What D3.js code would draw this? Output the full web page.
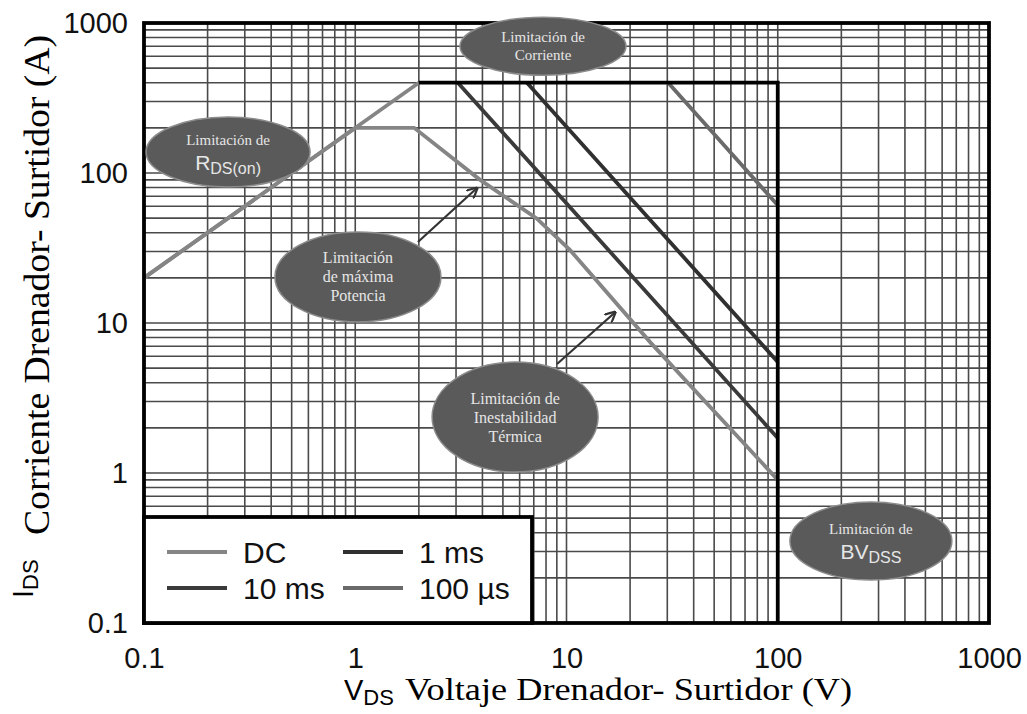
<!DOCTYPE html>
<html>
<head>
<meta charset="utf-8">
<script src="https://cdn.jsdelivr.net/npm/d3@7/dist/d3.min.js"></script>
<style>
  body { margin: 0; background: #fff; }
  .grid line { stroke: #4a4a4a; stroke-width: 1.6; }
  .tick-label text { font-family: "Liberation Sans", Arial, sans-serif; font-size: 29px; fill: #111; }
  .note text { font-family: "Liberation Serif", "Times New Roman", serif; fill: #e6e6e6; }
  .note .sans { font-family: "Liberation Sans", Arial, sans-serif; }
</style>
</head>
<body>
<div id="chart"></div>
<script>
// axis ticks
var xTicks = [0.1, 1, 10, 100, 1000];
var yTicks = [0.1, 1, 10, 100, 1000];

// R_DS(on) limit line
var rdsV = [0.1, 2];
var rdsI = [20, 400];

// current limit and BV_DSS limit
var limV = [2, 100, 100];
var limI = [400, 400, 0.1];

// safe operating area curves
var dcV = [0.1, 1, 1.9, 3.9, 7.2, 10.4, 25, 100];
var dcI = [20, 200, 200, 90, 50, 30.6, 7.4, 0.9];
var ms10V = [3.06, 100];
var ms10I = [400, 1.71];
var ms1V = [6.5, 100];
var ms1I = [400, 5.5];
var us100V = [30.3, 100];
var us100I = [400, 61];

var legendLabels = ["DC", "1 ms", "10 ms", "100 µs"];

var width = 1027,
    height = 714,
    margin = {left: 144, top: 23, right: 38, bottom: 91};

var x = d3.scaleLog()
    .domain([0.1, 1000])
    .range([margin.left, width - margin.right]);

var y = d3.scaleLog()
    .domain([0.1, 1000])
    .range([height - margin.bottom, margin.top]);

var svg = d3.select("#chart").append("svg")
    .attr("width", width)
    .attr("height", height);

// log grid
var grid = svg.append("g").attr("class", "grid");
grid.selectAll(".vx")
    .data(x.ticks())
  .enter().append("line")
    .attr("x1", function(d) { return x(d); })
    .attr("x2", function(d) { return x(d); })
    .attr("y1", y(0.1))
    .attr("y2", y(1000));
grid.selectAll(".hy")
    .data(y.ticks())
  .enter().append("line")
    .attr("x1", x(0.1))
    .attr("x2", x(1000))
    .attr("y1", function(d) { return y(d); })
    .attr("y2", function(d) { return y(d); });

function zip(vs, is) {
  return vs.map(function(v, i) { return [v, is[i]]; });
}

var line = d3.line()
    .x(function(d) { return x(d[0]); })
    .y(function(d) { return y(d[1]); });

var series = [
  {name: "DC", pts: zip(dcV, dcI), color: "#858585", w: 3.8},
  {name: "R", pts: zip(rdsV, rdsI), color: "#858585", w: 3.8},
  {name: "10 ms", pts: zip(ms10V, ms10I), color: "#3a3a3a", w: 3.8},
  {name: "1 ms", pts: zip(ms1V, ms1I), color: "#303030", w: 3.8},
  {name: "100 µs", pts: zip(us100V, us100I), color: "#6a6a6a", w: 3.8},
  {name: "lim", pts: zip(limV, limI), color: "#000", w: 3.8}
];

svg.append("g").selectAll("path")
    .data(series)
  .enter().append("path")
    .attr("d", function(d) { return line(d.pts); })
    .attr("fill", "none")
    .attr("stroke", function(d) { return d.color; })
    .attr("stroke-width", function(d) { return d.w; })
    .attr("stroke-linejoin", "miter");

// frame
svg.append("rect")
    .attr("x", x(0.1))
    .attr("y", y(1000))
    .attr("width", x(1000) - x(0.1))
    .attr("height", y(0.1) - y(1000))
    .attr("fill", "none")
    .attr("stroke", "#000")
    .attr("stroke-width", 3.8);

// axes
var fmt = function(d) { return d < 1 ? "0.1" : String(d); };
svg.append("g")
    .attr("class", "tick-label")
    .attr("transform", "translate(" + x(0.1) + ",0)")
    .call(d3.axisLeft(y).tickValues(yTicks).tickFormat(fmt).tickSize(0).tickPadding(16))
    .call(function(g) { g.select(".domain").remove(); });
svg.append("g")
    .attr("class", "tick-label")
    .attr("transform", "translate(0," + y(0.1) + ")")
    .call(d3.axisBottom(x).tickValues(xTicks).tickFormat(fmt).tickSize(0).tickPadding(24))
    .call(function(g) { g.select(".domain").remove(); });

// axis titles
var xt = svg.append("g");
var xs = xt.append("text")
    .attr("x", 344).attr("y", 700)
    .style("font-family", "Liberation Sans, Arial, sans-serif")
    .style("font-size", "29px");
xs.append("tspan").text("V");
xs.append("tspan").attr("dy", 5).style("font-size", "22px").text("DS");
xt.append("text")
    .attr("x", 405).attr("y", 700)
    .attr("textLength", 447)
    .attr("lengthAdjust", "spacingAndGlyphs")
    .style("font-family", "Liberation Serif, Times New Roman, serif")
    .style("font-size", "32px")
    .text("Voltaje Drenador- Surtidor (V)");

var yt = svg.append("g").attr("transform", "rotate(-90)");
var ys = yt.append("text")
    .attr("x", -598).attr("y", 33)
    .style("font-family", "Liberation Sans, Arial, sans-serif")
    .style("font-size", "29px");
ys.append("tspan").text("I");
ys.append("tspan").attr("dy", 5).style("font-size", "22px").text("DS");
yt.append("text")
    .attr("x", -535).attr("y", 49)
    .attr("textLength", 500)
    .attr("lengthAdjust", "spacingAndGlyphs")
    .style("font-family", "Liberation Serif, Times New Roman, serif")
    .style("font-size", "36px")
    .text("Corriente Drenador- Surtidor (A)");

// legend
var lg = svg.append("g");
lg.append("rect")
    .attr("x", x(0.1)).attr("y", 517)
    .attr("width", 388).attr("height", y(0.1) - 517)
    .attr("fill", "#fff")
    .attr("stroke", "#000")
    .attr("stroke-width", 3.8);
var legendColors = ["#858585", "#303030", "#3a3a3a", "#6a6a6a"];
var entry = lg.selectAll(".entry")
    .data(legendLabels)
  .enter().append("g")
    .attr("transform", function(d, i) {
      return "translate(" + (167 + (i % 2) * 176) + "," + (552 + Math.floor(i / 2) * 36) + ")";
    });
entry.append("line")
    .attr("x1", 0).attr("x2", 60)
    .attr("stroke", function(d, i) { return legendColors[i]; })
    .attr("stroke-width", 3.8);
entry.append("text")
    .attr("x", 76).attr("y", 11)
    .style("font-family", "Liberation Sans, Arial, sans-serif")
    .style("font-size", "30px")
    .style("fill", "#111")
    .text(function(d) { return d; });

// annotations (ellipses placed in data units)
var notes = [
  {v: 0.25, i: 138, rx: 82, ry: 35, lines: ["Limitación de"], big: ["R", "DS(on)"], size: 15},
  {v: 7.74, i: 700, rx: 83, ry: 29, lines: ["Limitación de", "Corriente"], size: 15},
  {v: 1.03, i: 20.3, rx: 83, ry: 45, lines: ["Limitación", "de máxima", "Potencia"], size: 16},
  {v: 5.71, i: 2.36, rx: 83, ry: 55, lines: ["Limitación de", "Inestabilidad", "Térmica"], size: 16},
  {v: 276, i: 0.352, rx: 81, ry: 39, lines: ["Limitación de"], big: ["BV", "DSS"], size: 15}
];

var arrows = [
  {v1: 1.98, i1: 34.7, v2: 3.77, i2: 79.4},
  {v1: 9.02, i1: 5.33, v2: 17.0, i2: 11.8}
];

svg.append("defs").append("marker")
    .attr("id", "head")
    .attr("viewBox", "0 0 10 10")
    .attr("refX", 9).attr("refY", 5)
    .attr("markerWidth", 5).attr("markerHeight", 5)
    .attr("orient", "auto")
  .append("path")
    .attr("d", "M0,0L10,5L0,10")
    .attr("fill", "none")
    .attr("stroke", "#333")
    .attr("stroke-width", 2);

svg.append("g").selectAll("line")
    .data(arrows)
  .enter().append("line")
    .attr("x1", function(d) { return x(d.v1); })
    .attr("y1", function(d) { return y(d.i1); })
    .attr("x2", function(d) { return x(d.v2); })
    .attr("y2", function(d) { return y(d.i2); })
    .attr("stroke", "#333")
    .attr("stroke-width", 2.2)
    .attr("marker-end", "url(#head)");

var note = svg.append("g").selectAll(".note")
    .data(notes)
  .enter().append("g")
    .attr("class", "note")
    .attr("transform", function(d) { return "translate(" + x(d.v) + "," + y(d.i) + ")"; });

note.append("ellipse")
    .attr("rx", function(d) { return d.rx; })
    .attr("ry", function(d) { return d.ry; })
    .attr("fill", "#5a5a5a")
    .attr("stroke", "#8c8c8c")
    .attr("stroke-width", 1.5);

note.each(function(d) {
  var g = d3.select(this);
  var n = d.lines.length + (d.big ? 1 : 0);
  var lh = d.big ? 24 : d.size + 3;
  var top = -(n - 1) * lh / 2;
  d.lines.forEach(function(t, k) {
    g.append("text")
        .attr("text-anchor", "middle")
        .attr("y", top + k * lh + d.size * 0.35)
        .style("font-size", d.size + "px")
        .text(t);
  });
  if (d.big) {
    var b = g.append("text")
        .attr("class", "sans")
        .attr("text-anchor", "middle")
        .attr("y", top + d.lines.length * lh + 6);
    b.append("tspan").style("font-size", "21px").text(d.big[0]);
    b.append("tspan").attr("dy", 4).style("font-size", "16px").text(d.big[1]);
  }
});
</script>
</body>
</html>
